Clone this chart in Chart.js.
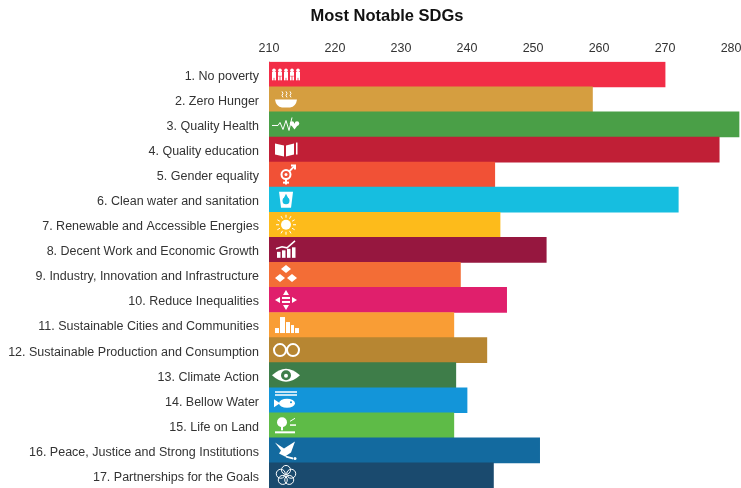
<!DOCTYPE html>
<html>
<head>
<meta charset="utf-8">
<title>Most Notable SDGs</title>
<script src="https://cdn.jsdelivr.net/npm/chart.js@4"></script>
<style>
  html, body { margin: 0; padding: 0; background: #fff; }
  canvas { display: block; filter: blur(0.5px); }
</style>
</head>
<body>
<canvas id="sdg-chart" width="741" height="488"></canvas>
<script>
const categories = [
  '1. No poverty', '2. Zero Hunger', '3. Quality Health', '4. Quality education',
  '5. Gender equality', '6. Clean water and sanitation', '7. Renewable and Accessible Energies',
  '8. Decent Work and Economic Growth', '9. Industry, Innovation and Infrastructure',
  '10. Reduce Inequalities', '11. Sustainable Cities and Communities',
  '12. Sustainable Production and Consumption', '13. Climate Action', '14. Bellow Water',
  '15. Life on Land', '16. Peace, Justice and Strong Institutions', '17. Partnerships for the Goals'
];
const values = [270, 259, 281.2, 278.2, 244.2, 272, 245, 252, 239, 246, 238, 243, 238.3, 240, 238, 251, 244];
const barColors = [
  '#f22d47', '#d59e40', '#4a9f47', '#c01f36', '#f15136', '#16bee0', '#fdbb1b', '#96173f', '#f36d36',
  '#e01f6c', '#f99d35', '#b78632', '#3e7d49', '#1395d9', '#5ebb47', '#136a9f', '#1a4a6e'
];

// little white pictographs, each one drawn around (0,0)
function dot(c, x, y, r) { c.beginPath(); c.arc(x, y, r, 0, Math.PI * 2); c.fill(); }
function line(c, pts) {
  c.beginPath();
  pts.forEach((p, i) => i ? c.lineTo(p[0], p[1]) : c.moveTo(p[0], p[1]));
  c.stroke();
}
function fillPoly(c, pts) {
  c.beginPath();
  pts.forEach((p, i) => i ? c.lineTo(p[0], p[1]) : c.moveTo(p[0], p[1]));
  c.closePath();
  c.fill();
}
const icons = [
  c => { // people
    [-12, -6, 0, 6, 12].forEach((x, i) => {
      const h = i % 2 ? 3 : 5;
      dot(c, x, -4, 1.8);
      c.fillRect(x - 2, -2.5, 4, h + 1);
      c.fillRect(x - 2, 2, 1.6, 4);
      c.fillRect(x + 0.4, 2, 1.6, 4);
    });
  },
  c => { // bowl
    c.beginPath(); c.moveTo(-11, 0); c.lineTo(11, 0); c.quadraticCurveTo(10, 7, 4, 8);
    c.lineTo(-4, 8); c.quadraticCurveTo(-10, 7, -11, 0); c.fill();
    [-4, 0, 4].forEach(x => line(c, [[x, -8], [x + 1, -6], [x, -4], [x + 1, -2]]));
  },
  c => { // heartbeat
    c.lineWidth = 1;
    line(c, [[-14, 1], [-8, 1], [-6, -2], [-3, 5], [0, -4], [3, 6], [6, -7]]);
    fillPoly(c, [[4, -1], [13, -1], [8.5, 5]]);
    dot(c, 6, -1, 2.2); dot(c, 11, -1, 2.2);
  },
  c => { // book and pencil
    fillPoly(c, [[-11, -6], [-2, -4], [-2, 7], [-11, 5]]);
    fillPoly(c, [[0, -4], [8, -6], [8, 5], [0, 7]]);
    c.fillRect(10, -7, 1.5, 12);
  },
  c => { // gender
    c.lineWidth = 2;
    c.beginPath(); c.arc(0, 0, 4.5, 0, Math.PI * 2); c.stroke();
    dot(c, 0, 0, 1.5);
    line(c, [[0, 4.5], [0, 10]]); line(c, [[-3, 8], [3, 8]]);
    line(c, [[3.5, -3.5], [9, -9]]); line(c, [[5, -9], [9, -9], [9, -5]]);
  },
  c => { // water glass
    fillPoly(c, [[-7, -8], [7, -8], [5, 8], [-5, 8]]);
    c.fillStyle = barColors[5];
    dot(c, 0, 1, 3.5);
    fillPoly(c, [[-3, 0], [3, 0], [0, -6]]);
  },
  c => { // sun
    dot(c, 0, 0, 5);
    c.lineWidth = 1;
    for (let a = 0; a < 12; a++) {
      const t = a * Math.PI / 6;
      line(c, [[Math.cos(t) * 7, Math.sin(t) * 7], [Math.cos(t) * 10, Math.sin(t) * 10]]);
    }
  },
  c => { // rising chart
    [-9, -4, 1, 6].forEach((x, i) => c.fillRect(x, 2 - i * 1.5, 3.5, 6 + i * 1.5));
    c.lineWidth = 1.5;
    line(c, [[-10, -1], [-4, -3], [1, -2], [9, -9]]);
  },
  c => { // cubes
    [[0, -6], [-6, 3], [6, 3]].forEach(p => {
      fillPoly(c, [[p[0], p[1] - 4], [p[0] + 5, p[1]], [p[0], p[1] + 4], [p[0] - 5, p[1]]]);
    });
  },
  c => { // inequality arrows
    c.fillRect(-4, -3, 8, 2); c.fillRect(-4, 1, 8, 2);
    fillPoly(c, [[-3, -5], [3, -5], [0, -10]]);
    fillPoly(c, [[-3, 5], [3, 5], [0, 10]]);
    fillPoly(c, [[-6, -3], [-6, 3], [-11, 0]]);
    fillPoly(c, [[6, -3], [6, 3], [11, 0]]);
  },
  c => { // city
    c.fillRect(-11, 3, 4, 5); c.fillRect(-6, -8, 5, 16); c.fillRect(0, -3, 4, 11);
    c.fillRect(5, 0, 3, 8); c.fillRect(9, 3, 4, 5);
  },
  c => { // infinity
    c.lineWidth = 2;
    c.beginPath(); c.arc(-6, 0, 6, 0, Math.PI * 2); c.stroke();
    c.beginPath(); c.arc(7, 0, 6, 0, Math.PI * 2); c.stroke();
  },
  c => { // eye with earth
    c.beginPath(); c.moveTo(-14, 0); c.quadraticCurveTo(0, -13, 14, 0); c.quadraticCurveTo(0, 13, -14, 0); c.fill();
    c.fillStyle = barColors[12];
    dot(c, 0, 0, 5);
    c.fillStyle = '#fff';
    dot(c, 0, 0.5, 2);
  },
  c => { // waves and fish
    c.fillRect(-11, -9, 22, 1.5); c.fillRect(-11, -6, 22, 1.5);
    c.beginPath(); c.ellipse(1, 3, 8, 4.5, 0, 0, Math.PI * 2); c.fill();
    fillPoly(c, [[-6, 3], [-12, -1], [-12, 7]]);
    c.fillStyle = barColors[13];
    dot(c, 5, 2, 1);
  },
  c => { // tree and ground
    dot(c, -4, -3, 5);
    c.fillRect(-5, 0, 2, 5);
    c.fillRect(-11, 6, 20, 2);
    c.fillRect(4, -1, 6, 1.5);
    line(c, [[4, -4], [9, -7]]);
  },
  c => { // dove
    fillPoly(c, [[-11, -8], [-2, -2], [9, -9], [5, 2], [-1, 6], [-7, 3], [-5, 0]]);
    fillPoly(c, [[-1, 5], [7, 7], [7, 9], [0, 7]]);
    dot(c, 9, 8, 1.5);
  },
  c => { // partnership flower
    c.lineWidth = 1;
    for (let a = 0; a < 5; a++) {
      const t = a * Math.PI * 2 / 5 - Math.PI / 2;
      c.beginPath(); c.arc(Math.cos(t) * 5.5, Math.sin(t) * 5.5, 4.5, 0, Math.PI * 2); c.stroke();
    }
  }
];

const iconPlugin = {
  id: 'sdgIcons',
  afterLayout(chart) {
    // title sits over the plot side of the picture, not the canvas middle
    chart.titleBlock.left = 33;
    chart.titleBlock.right = 741;
  },
  afterDatasetsDraw(chart) {
    const c = chart.ctx;
    const x = chart.scales.x.getPixelForValue(210) + 17;
    categories.forEach((name, i) => {
      c.save();
      c.translate(x, chart.scales.y.getPixelForValue(i));
      c.fillStyle = '#fff';
      c.strokeStyle = '#fff';
      icons[i](c);
      c.restore();
    });
  }
};

// tick labels must not pull the plot away from the canvas edges
function noLabelPadding(scale) {
  scale.paddingTop = 0;
  scale.paddingBottom = 0;
  scale.paddingLeft = 0;
  scale.paddingRight = 0;
}

new Chart(document.getElementById('sdg-chart').getContext('2d'), {
  type: 'bar',
  data: {
    labels: categories,
    datasets: [{
      label: 'Most Notable SDGs',
      data: values,
      backgroundColor: barColors,
      borderWidth: 0,
      barPercentage: 1,
      categoryPercentage: 1
    }]
  },
  options: {
    indexAxis: 'y',
    responsive: false,
    animation: false,
    layout: { padding: 0 },
    plugins: {
      legend: { display: false },
      tooltip: { enabled: false },
      title: {
        display: true,
        text: 'Most Notable SDGs',
        color: '#111',
        font: { family: '"Liberation Sans"', size: 16.5, weight: 'bold' },
        padding: { top: 7, bottom: 6 }
      }
    },
    scales: {
      x: {
        position: 'top',
        min: 210,
        max: 281.5,
        grid: { display: false, drawTicks: false },
        border: { display: false },
        ticks: {
          stepSize: 10,
          includeBounds: false,
          maxRotation: 0,
          padding: 6,
          color: '#333',
          font: { family: '"Liberation Sans"', size: 12.5 }
        },
        afterFit(scale) { scale.height = 29; noLabelPadding(scale); }
      },
      y: {
        grid: { display: false, drawTicks: false },
        border: { color: '#dddddd' },
        ticks: {
          autoSkip: false,
          padding: 10,
          labelOffset: 2,
          color: '#333',
          font: { family: '"Liberation Sans"', size: 12.5 }
        },
        afterFit(scale) { scale.width = 269; noLabelPadding(scale); }
      }
    }
  },
  plugins: [iconPlugin]
});
</script>
</body>
</html>
